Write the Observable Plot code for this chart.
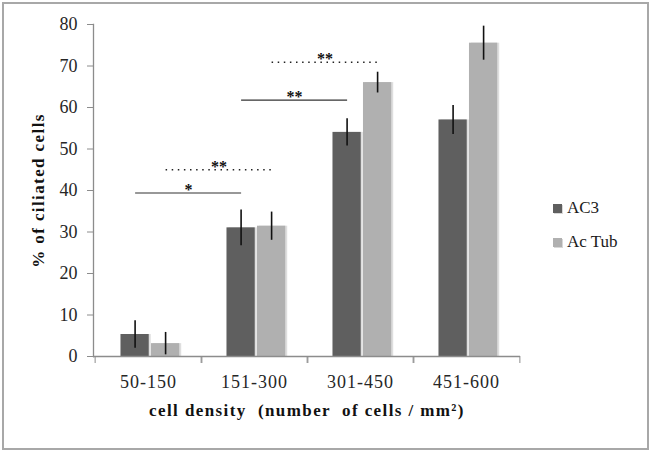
<!DOCTYPE html>
<html>
<head>
<meta charset="utf-8">
<script src="https://cdn.jsdelivr.net/npm/d3@7"></script>
<script src="https://cdn.jsdelivr.net/npm/@observablehq/plot@0.6"></script>
<style>
html, body { margin: 0; padding: 0; background: #fff; }
#wrap { position: relative; width: 653px; height: 451px; overflow: hidden; background: #fff; }
#border { position: absolute; left: 2px; top: 2px; width: 647px; height: 448px; border: 2px solid #a8a8a8; box-sizing: border-box; pointer-events: none; }
#legend { position: absolute; left: 553px; top: 196px; font-family: "Liberation Serif", serif; font-size: 17px; color: #1a1a1a; }
#legend .row { display: flex; align-items: center; height: 24px; margin-bottom: 10px; }
#legend .sw { width: 9px; height: 9px; margin-right: 5px; box-shadow: 1px 1px 0 #d8d8d8; }
g[aria-label="y-axis tick label"] text, g[aria-label="x-axis tick label"] text { fill: #262626; }
</style>
</head>
<body>
<div id="wrap">
  <div id="chart"></div>
  <div id="legend"></div>
  <div id="border"></div>
</div>
<script>
// ---- data ----
const categories = ["50-150", "151-300", "301-450", "451-600"];
const seriesNames = ["AC3", "Ac Tub"];
const seriesColors = ["#5f5f5f", "#b0b0b0"];
const ac3Values = [5.3, 31.0, 54.0, 57.0];
const ac3Errors = [3.3, 4.3, 3.3, 3.5];
const acTubValues = [3.1, 31.4, 66.0, 75.5];
const acTubErrors = [2.7, 3.4, 2.5, 4.1];
const yTicks = [0, 10, 20, 30, 40, 50, 60, 70, 80];
const sigFrom = ["50-150", "50-150", "151-300", "151-300"];
const sigTo = ["151-300", "151-300", "301-450", "301-450"];
const sigSeries = ["AC3", "Ac Tub", "AC3", "Ac Tub"];
const sigLevel = [39.4, 45.0, 61.8, 70.9];
const sigLabel = ["*", "**", "**", "**"];
const xTitle = "cell density  (number  of cells / mm²)";
const yTitle = "% of ciliated cells";

// ---- tables ----
const bars = [];
categories.forEach((c, i) => {
  bars.push({cat: c, series: "AC3", value: ac3Values[i], err: ac3Errors[i]});
  bars.push({cat: c, series: "Ac Tub", value: acTubValues[i], err: acTubErrors[i]});
});
const sig = sigFrom.map((f, i) => ({from: f, to: sigTo[i], series: sigSeries[i], level: sigLevel[i], label: sigLabel[i]}));

// ---- layout ----
const W = 653, H = 451, ML = 93, MR = 133, MT = 24, MB = 95;
const bw = (W - ML - MR) / categories.length;   // band width
const barW = 29;
const off = {"AC3": -13.4, "Ac Tub": 17.1};     // bar centre offsets from band centre
const inset = s => {
  const left = bw / 2 + off[s] - barW / 2;
  return {insetLeft: left, insetRight: bw - left - barW};
};

const marks = [];
seriesNames.forEach((s, k) => {
  const d = bars.filter(b => b.series === s);
  marks.push(Plot.barY(d, {x: "cat", y: "value", ...inset(s), dx: 2, fill: "#dedede"}));
  marks.push(Plot.barY(d, {x: "cat", y: "value", ...inset(s), fill: seriesColors[k]}));
});
seriesNames.forEach(s => {
  const d = bars.filter(b => b.series === s);
  marks.push(Plot.ruleX(d, {x: "cat", y1: b => b.value - b.err, y2: b => b.value + b.err, dx: off[s], stroke: "#111", strokeWidth: 1.6}));
});
// significance brackets
seriesNames.forEach(s => {
  const d = sig.filter(g => g.series === s);
  const dotted = s === "Ac Tub";
  marks.push(Plot.link(d, {
    x1: "from", x2: "to", y1: "level", y2: "level", dx: off[s],
    stroke: dotted ? "#222" : "#333", strokeWidth: dotted ? 1.5 : 1.2,
    strokeDasharray: dotted ? "1.5,4.6" : null
  }));
  marks.push(Plot.text(d, {
    x: "from", y: "level", text: "label", dx: off[s] + bw / 2, dy: -3,
    fontSize: 16, fill: "#111", fontWeight: "bold"
  }));
});
// axes
marks.push(Plot.ruleY([0], {stroke: "#8c8c8c", strokeWidth: 1.3}));
marks.push(Plot.frame({anchor: "left", stroke: "#8c8c8c", strokeWidth: 1.3}));
marks.push(Plot.axisY({ticks: yTicks, tickSize: 6, tickPadding: 10, stroke: "#8c8c8c", fill: "#262626", fontSize: 18, label: null}));
marks.push(Plot.axisX({tickSize: 7, tickFormat: () => "", dx: -bw / 2, stroke: "#8c8c8c", label: null}));
marks.push(Plot.axisX({tickSize: 7, tickFormat: () => "", dx: bw / 2, stroke: "#8c8c8c", label: null}));
marks.push(Plot.axisX({tickSize: 0, tickPadding: 19, fill: "#262626", fontSize: 18, label: null}));
// axis titles
marks.push(Plot.text([xTitle], {frameAnchor: "bottom", lineAnchor: "top", textAnchor: "middle", dy: 47, text: d => d, fontWeight: "bold", fontSize: 17, fill: "#111"}));
marks.push(Plot.text([yTitle], {frameAnchor: "left", textAnchor: "middle", lineAnchor: "middle", rotate: -90, dx: -54.5, text: d => d, fontWeight: "bold", fontSize: 17, fill: "#111"}));

const chart = Plot.plot({
  width: W, height: H,
  marginLeft: ML, marginRight: MR, marginTop: MT, marginBottom: MB,
  style: {fontFamily: "'Liberation Serif', 'Times New Roman', serif", fontSize: "17px", background: "#fff", overflow: "visible"},
  x: {type: "band", domain: categories, padding: 0, axis: null},
  y: {domain: [0, 80], axis: null},
  marks
});
document.getElementById("chart").appendChild(chart);

// letter spacing to mimic the wide rendering of the original
d3.select(chart).selectAll('g[aria-label="x-axis tick label"] text').style("letter-spacing", "1px");
d3.select(chart).selectAll('g[aria-label="text"] text').filter(function() { return this.textContent.length > 5; }).style("letter-spacing", "1.4px");

// legend
const legend = d3.select("#legend");
seriesNames.forEach((s, k) => {
  const row = legend.append("div").attr("class", "row");
  row.append("div").attr("class", "sw").style("background", seriesColors[k]);
  row.append("span").text(s);
});
</script>
</body>
</html>
